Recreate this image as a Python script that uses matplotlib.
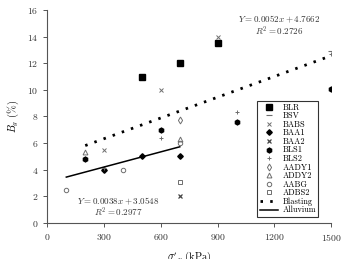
import matplotlib
matplotlib.use("Agg")
import matplotlib.pyplot as plt
import numpy as np

plt.rcParams['font.family'] = ['cmr10', 'DejaVu Serif']
plt.rcParams['mathtext.fontset'] = 'cm'
plt.rcParams['axes.formatter.use_mathtext'] = True

# data (sigma'_v kPa, Bg %)
blr_x = [500, 700, 900]
blr_y = [11.0, 12.0, 13.5]
bsv_x = [1500]
bsv_y = [12.9]
babs_x = [300, 600, 900]
babs_y = [5.5, 10.0, 14.0]
baa1_x = [300, 500, 700]
baa1_y = [4.0, 5.0, 5.0]
baa2_x = [700]
baa2_y = [2.0]
bls1_x = [200, 600, 1000, 1500]
bls1_y = [4.8, 7.0, 7.6, 10.1]
bls2_x = [300, 600, 1000, 1500]
bls2_y = [4.1, 6.4, 8.3, 12.7]
aady1_x = [700]
aady1_y = [7.7]
addy2_x = [200, 700]
addy2_y = [5.3, 6.3]
aabg_x = [100, 400, 700]
aabg_y = [2.5, 4.0, 6.0]
adbs2_x = [700]
adbs2_y = [3.1]

blast_x = [200, 1500]
blast_slope, blast_icpt = 0.0052, 4.7662
allu_x = [100, 700]
allu_slope, allu_icpt = 0.0038, 3.0548

fig = plt.figure(figsize=(3.41, 2.59), dpi=100)
ax = fig.add_axes([0.139, 0.140, 0.832, 0.821])

gray = '#6e6e6e'
ax.plot(blr_x, blr_y, 's', color='black', ms=4.5, label='BLR')
ax.plot(bsv_x, bsv_y, '_', color=gray, ms=4, mew=0.8, label='BSV')
ax.plot(babs_x, babs_y, 'x', color=gray, ms=3.5, mew=0.7, label='BABS')
ax.plot(baa1_x, baa1_y, 'D', color='black', ms=2.8, label='BAA1')
ax.plot(baa2_x, baa2_y, 'x', color='#444444', ms=2.8, mew=0.9, label='BAA2')
ax.plot(bls1_x, bls1_y, 'h', color='black', ms=3.5, label='BLS1')
ax.plot(bls2_x, bls2_y, '+', color=gray, ms=3.5, mew=0.7, label='BLS2')
ax.plot(aady1_x, aady1_y, 'd', mfc='none', mec=gray, ms=3.5, mew=0.7, label='AADY1')
ax.plot(addy2_x, addy2_y, '^', mfc='none', mec=gray, ms=3.5, mew=0.7, label='ADDY2')
ax.plot(aabg_x, aabg_y, 'o', mfc='none', mec=gray, ms=3.2, mew=0.7, label='AABG')
ax.plot(adbs2_x, adbs2_y, 's', mfc='none', mec=gray, ms=3.2, mew=0.7, label='ADBS2')

bx = np.array(blast_x, dtype=float)
ax.plot(bx, blast_slope * bx + blast_icpt, color='black', lw=2, ls=(0, (0.9, 2.6)), label='Blasting')
axx = np.array(allu_x, dtype=float)
ax.plot(axx, allu_slope * axx + allu_icpt, color='black', lw=1.1, label='Alluvium')

ax.set_xlim(0, 1500)
ax.set_ylim(0, 16)
ax.set_xticks([0, 300, 600, 900, 1200, 1500])
ax.set_yticks([0, 2, 4, 6, 8, 10, 12, 14, 16])
for s in ['top', 'right']:
    ax.spines[s].set_visible(False)
for s in ['left', 'bottom']:
    ax.spines[s].set_color('#555555')
    ax.spines[s].set_linewidth(0.8)
ax.tick_params(labelsize=7, length=3, width=0.7, colors='#555555', labelcolor='#333333')

ax.set_ylabel(r'$B_g$ (%)', fontsize=7.5, labelpad=4)
ax.set_xlabel(r"$\sigma'_v$ (kPa)", fontsize=7.5, labelpad=5)

ax.text(1225, 15.3, r'$Y = 0.0052x + 4.7662$', fontsize=6.5, ha='center', va='center', color='#333333')
ax.text(1225, 14.42, r'$R^2 = 0.2726$', fontsize=6.5, ha='center', va='center', color='#333333')
ax.text(377, 1.6, r'$Y = 0.0038x + 3.0548$', fontsize=6.5, ha='center', va='center', color='#333333')
ax.text(377, 0.78, r'$R^2 = 0.2977$', fontsize=6.5, ha='center', va='center', color='#333333')

leg = ax.legend(loc='lower right', bbox_to_anchor=(0.955, 0.027), fontsize=6, frameon=True,
                fancybox=False, edgecolor='black', handlelength=2.2, handletextpad=0.5,
                labelspacing=0.02, borderpad=0.3, borderaxespad=0.0)
leg.get_frame().set_linewidth(0.8)

fig.savefig('out.png', dpi=100)
